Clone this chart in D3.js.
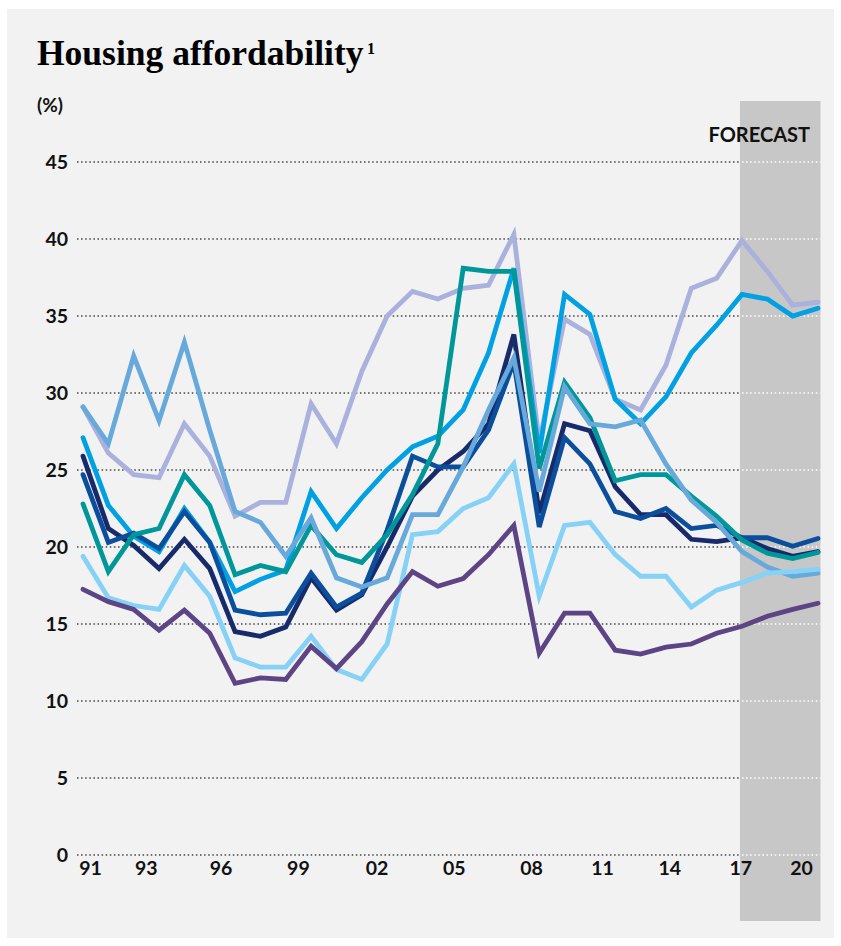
<!DOCTYPE html>
<meta charset="utf-8">
<head>
    <script src="https://d3js.org/d3.v7.min.js"></script>
    <style>
    body { margin: 0; background: #ffffff; }
    .line { fill: none; stroke-width: 4.8px; stroke-linejoin: miter; stroke-linecap: round; }
    .title { font-family: "Liberation Serif", serif; font-weight: bold; fill: #000; }
    .lbl { font-family: Lato, "Open Sans", sans-serif; font-weight: bold; fill: #111; }
    </style>
</head>
<body>
<svg id="chart"></svg>
<script>
// years on the x axis
var years = d3.range(1991, 2021);

// the eight series, bottom layer first
var lavender = [29.1, 26.1, 24.7, 24.5, 28.0, 25.9, 22.0, 22.9, 22.9, 29.3, 26.7, 31.4, 35.0, 36.6, 36.1, 36.8, 37.0, 40.3, 26.8, 34.8, 33.8, 29.6, 28.9, 31.8, 36.8, 37.45, 39.9, 37.9, 35.7, 35.9];
var brightBlue = [27.1, 22.7, 20.7, 19.7, 22.5, 20.3, 17.1, 17.9, 18.5, 23.6, 21.2, 23.2, 25.0, 26.5, 27.2, 28.9, 32.6, 38.1, 26.1, 36.4, 35.1, 29.6, 28.0, 29.75, 32.6, 34.4, 36.4, 36.1, 35.0, 35.5];
var navy = [25.9, 21.2, 20.1, 18.6, 20.5, 18.6, 14.5, 14.2, 14.8, 18.0, 15.9, 16.9, 20.0, 23.3, 25.0, 26.2, 28.0, 33.8, 22.2, 28.0, 27.55, 23.9, 22.1, 22.1, 20.5, 20.35, 20.6, 19.9, 19.4, 19.7];
var royal = [24.7, 20.3, 20.9, 19.9, 22.3, 20.3, 15.9, 15.6, 15.7, 18.3, 16.1, 17.0, 21.1, 25.9, 25.2, 25.2, 27.6, 32.0, 21.3, 27.1, 25.4, 22.3, 21.85, 22.5, 21.2, 21.4, 20.6, 20.6, 20.05, 20.55];
var teal = [22.8, 18.4, 20.8, 21.2, 24.7, 22.7, 18.2, 18.8, 18.4, 21.4, 19.5, 19.0, 20.8, 23.4, 26.7, 38.1, 37.9, 37.9, 25.1, 30.7, 28.4, 24.3, 24.7, 24.7, 23.3, 22.0, 20.45, 19.6, 19.25, 19.65];
var steel = [29.1, 26.7, 32.4, 28.2, 33.3, 27.6, 22.3, 21.6, 19.4, 21.9, 18.0, 17.4, 18.0, 22.1, 22.1, 25.2, 28.9, 32.3, 23.6, 30.4, 28.0, 27.8, 28.25, 25.4, 23.05, 21.6, 19.7, 18.7, 18.1, 18.3];
var sky = [19.4, 16.7, 16.2, 15.95, 18.8, 16.8, 12.8, 12.2, 12.2, 14.2, 12.05, 11.4, 13.7, 20.8, 21.0, 22.5, 23.2, 25.4, 16.8, 21.4, 21.6, 19.5, 18.1, 18.1, 16.1, 17.2, 17.7, 18.3, 18.4, 18.55];
var purple = [17.25, 16.45, 15.95, 14.6, 15.9, 14.4, 11.15, 11.5, 11.4, 13.55, 12.1, 13.85, 16.3, 18.4, 17.45, 17.95, 19.5, 21.4, 13.1, 15.7, 15.7, 13.3, 13.05, 13.5, 13.7, 14.4, 14.85, 15.5, 15.95, 16.35];

var seriesList = [lavender, brightBlue, navy, royal, teal, steel, sky, purple];
var seriesColors = ["#a9b1dc", "#00a1e2", "#172a6a", "#0b4f9c", "#00979a", "#67a9da", "#86d1f6", "#5c4485"];

// axis labels
var yTicks = [0, 5, 10, 15, 20, 25, 30, 35, 40, 45];
var xTickLabels = ["91", "93", "96", "99", "02", "05", "08", "11", "14", "17", "20"];
var xTickAt = [1991.3, 1993.5, 1996.45, 1999.5, 2002.6, 2005.65, 2008.7, 2011.5, 2014.15, 2016.95, 2019.35];
var forecastFrom = 2017;

var W = 841, H = 946;

var svg = d3.select("#chart")
    .attr("width", W)
    .attr("height", H);

// panel background
svg.append("rect")
    .attr("x", 7).attr("y", 9)
    .attr("width", 827).attr("height", 929)
    .attr("fill", "#f2f2f2");

var x = d3.scaleLinear().domain([1991, 2020]).range([83, 818]);
var y = d3.scaleLinear().domain([0, 45]).range([855, 162]);

var gridLeft = 77, gridRight = 820.5;
var boxLeft = x(forecastFrom) - 2;

// forecast shading
svg.append("rect")
    .attr("x", boxLeft).attr("y", 101)
    .attr("width", gridRight - boxLeft).attr("height", 820)
    .attr("fill", "#c6c7c6");

// dotted gridlines: dark over the history, white over the forecast
svg.append("g").selectAll("line")
    .data(yTicks)
    .join("line")
    .attr("x1", gridLeft).attr("x2", boxLeft)
    .attr("y1", d => y(d)).attr("y2", d => y(d))
    .attr("stroke", "#444")
    .attr("stroke-width", 1.5)
    .attr("stroke-dasharray", "1.5,2.6");

svg.append("g").selectAll("line")
    .data(yTicks)
    .join("line")
    .attr("x1", boxLeft + 2).attr("x2", gridRight)
    .attr("y1", d => y(d)).attr("y2", d => y(d))
    .attr("stroke", "#ffffff")
    .attr("stroke-width", 1.5)
    .attr("stroke-dasharray", "1.5,2.6");

// y labels
svg.append("g").selectAll("text")
    .data(yTicks)
    .join("text")
    .attr("class", "lbl")
    .attr("x", 68)
    .attr("y", d => y(d))
    .attr("dy", "0.36em")
    .attr("text-anchor", "end")
    .style("font-size", "19.5px")
    .text(d => d);

// x labels
svg.append("g").selectAll("text")
    .data(xTickLabels)
    .join("text")
    .attr("class", "lbl")
    .attr("x", (d, i) => x(xTickAt[i]))
    .attr("y", 875)
    .attr("text-anchor", "middle")
    .style("font-size", "19.5px")
    .text(d => d);

// the lines
var line = d3.line()
    .x((d, i) => x(years[i]))
    .y(d => y(d));

svg.append("g").selectAll("path")
    .data(seriesList)
    .join("path")
    .attr("class", "line")
    .attr("stroke", (d, i) => seriesColors[i])
    .attr("d", line);

// title
svg.append("text")
    .attr("class", "title")
    .attr("x", 37)
    .attr("y", 65)
    .style("font-size", "35.5px")
    .text("Housing affordability");

svg.append("text")
    .attr("class", "title")
    .attr("x", 367)
    .attr("y", 54)
    .style("font-size", "16px")
    .text("1");

svg.append("text")
    .attr("class", "lbl")
    .attr("x", 37)
    .attr("y", 112)
    .style("font-size", "19px")
    .text("(%)");

svg.append("text")
    .attr("class", "lbl")
    .attr("x", 810)
    .attr("y", 142)
    .attr("text-anchor", "end")
    .style("font-size", "20px")
    .text("FORECAST");
</script>
</body>
